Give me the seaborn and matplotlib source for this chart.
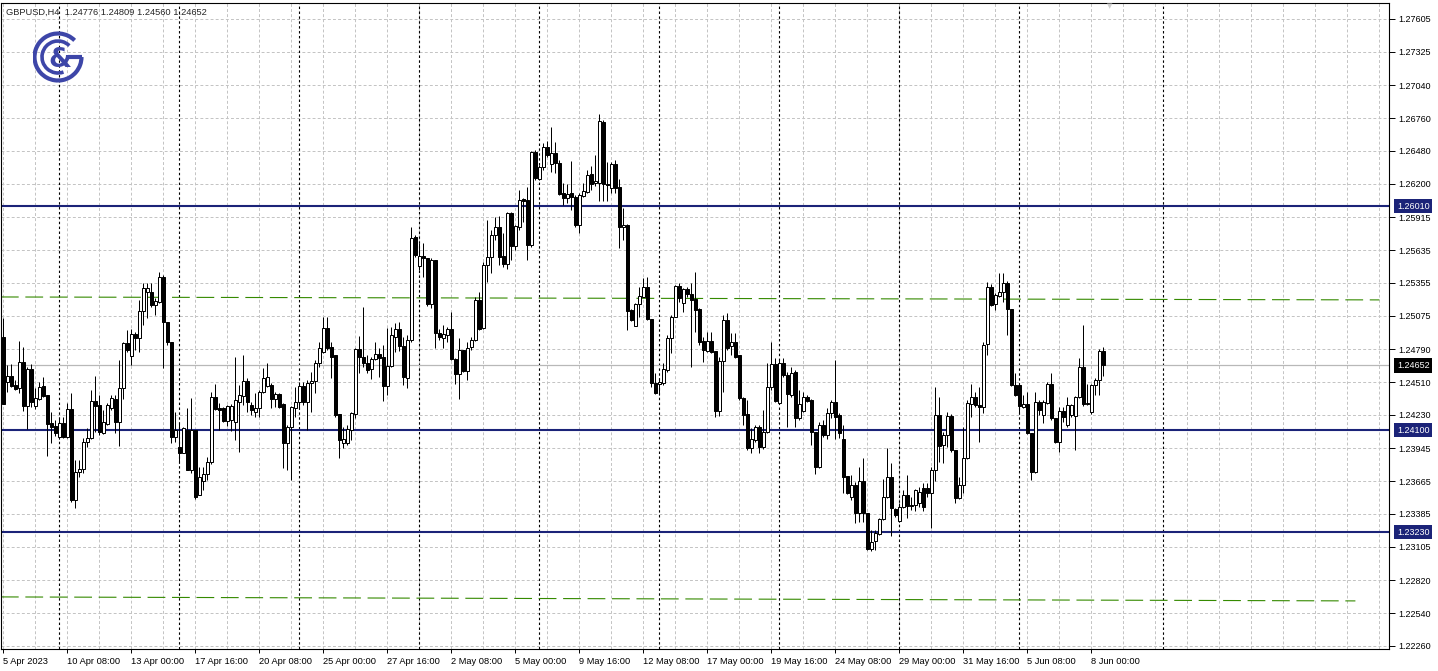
import matplotlib
matplotlib.use("Agg")
import matplotlib.pyplot as plt
from matplotlib.patches import Arc
import numpy as np
import pandas as pd
import seaborn as sns

header_text = "GBPUSD,H4  1.24776 1.24809 1.24560 1.24652"

# H4 candles (oldest first)
opens = [
    1.24894, 1.24511, 1.24562, 1.24485, 1.24460, 1.24681, 1.24306, 1.24621, 1.24306, 1.24365,
    1.24477, 1.24399, 1.24161, 1.24136, 1.24042, 1.24161, 1.24042, 1.24280, 1.23505, 1.23743,
    1.23769, 1.23999, 1.24033, 1.24348, 1.24314, 1.24075, 1.24153, 1.24289, 1.24365, 1.24170,
    1.24460, 1.24843, 1.24732, 1.24920, 1.24886, 1.25116, 1.25278, 1.25278, 1.25167, 1.25193,
    1.25406, 1.25022, 1.24852, 1.24042, 1.23956, 1.23905, 1.24101, 1.23760, 1.24101, 1.23547,
    1.23666, 1.23726, 1.23829, 1.24382, 1.24289, 1.24289, 1.24178, 1.24187, 1.24170, 1.24340,
    1.24391, 1.24520, 1.24314, 1.24255, 1.24289, 1.24425, 1.24477, 1.24485, 1.24365, 1.24408,
    1.24323, 1.23990, 1.24127, 1.24289, 1.24340, 1.24477, 1.24340, 1.24502, 1.24520, 1.24672,
    1.24766, 1.24971, 1.24809, 1.24741, 1.24238, 1.23990, 1.23990, 1.24101, 1.24238, 1.24792,
    1.24724, 1.24672, 1.24621, 1.24707, 1.24749, 1.24724, 1.24477, 1.24647, 1.24894, 1.24962,
    1.24817, 1.24545, 1.24869, 1.25747, 1.25499, 1.25585, 1.25568, 1.25176, 1.25551, 1.24928,
    1.24886, 1.24911, 1.24962, 1.24707, 1.24579, 1.24783, 1.24604, 1.24809, 1.24869, 1.25210,
    1.24971, 1.25508, 1.25576, 1.25764, 1.25832, 1.25585, 1.25516, 1.25951, 1.25670, 1.25832,
    1.26071, 1.26062, 1.25679, 1.26471, 1.26241, 1.26343, 1.26514, 1.26369, 1.26463, 1.26378,
    1.26122, 1.26079, 1.26122, 1.26088, 1.25849, 1.26096, 1.26130, 1.26284, 1.26207, 1.26207,
    1.26727, 1.26198, 1.26164, 1.26369, 1.26173, 1.25832, 1.25849, 1.25124, 1.24988, 1.25176,
    1.25235, 1.25321, 1.25048, 1.24502, 1.24494, 1.24502, 1.24613, 1.24886, 1.25065, 1.25329,
    1.25184, 1.25304, 1.25261, 1.25218, 1.25133, 1.24860, 1.24775, 1.24860, 1.24775, 1.24263,
    1.24689, 1.25039, 1.24817, 1.24852, 1.24741, 1.24374, 1.24238, 1.23948, 1.24016, 1.24127,
    1.23956, 1.24084, 1.24468, 1.24664, 1.24331, 1.24672, 1.24570, 1.24399, 1.24596, 1.24204,
    1.24263, 1.24382, 1.24357, 1.24084, 1.23786, 1.24144, 1.24059, 1.24246, 1.24340, 1.24229,
    1.24025, 1.23709, 1.23530, 1.23632, 1.23394, 1.23666, 1.23394, 1.23087, 1.23156, 1.23215,
    1.23342, 1.23530, 1.23700, 1.23428, 1.23326, 1.23445, 1.23547, 1.23462, 1.23462, 1.23479,
    1.23607, 1.23607, 1.23564, 1.23760, 1.24229, 1.23973, 1.24059, 1.24221, 1.23931, 1.23522,
    1.23632, 1.23863, 1.24323, 1.24382, 1.24314, 1.24297, 1.24835, 1.25321, 1.25176, 1.25244,
    1.25278, 1.25355, 1.25133, 1.24485, 1.24485, 1.24297, 1.24323, 1.24075, 1.23743, 1.24340,
    1.24229, 1.24331, 1.24494, 1.24204, 1.23999, 1.24263, 1.24144, 1.24229, 1.24221, 1.24382,
    1.24638, 1.24323, 1.24255, 1.24485, 1.24528, 1.24776,
]
highs = [
    1.25056, 1.24655, 1.24664, 1.24528, 1.24860, 1.24809, 1.24638, 1.24664, 1.24460, 1.24511,
    1.24553, 1.24399, 1.24255, 1.24187, 1.24204, 1.24212, 1.24331, 1.24416, 1.23846, 1.23846,
    1.24033, 1.24118, 1.24442, 1.24562, 1.24399, 1.24272, 1.24331, 1.24399, 1.24399, 1.24698,
    1.24852, 1.24954, 1.24962, 1.24937, 1.25210, 1.25355, 1.25355, 1.25355, 1.25227, 1.25449,
    1.25423, 1.25022, 1.24852, 1.24255, 1.24161, 1.24127, 1.24289, 1.24374, 1.24101, 1.23786,
    1.23786, 1.23871, 1.24425, 1.24494, 1.24331, 1.24297, 1.24314, 1.24323, 1.24724, 1.24485,
    1.24741, 1.24545, 1.24340, 1.24416, 1.24442, 1.24630, 1.24672, 1.24502, 1.24425, 1.24416,
    1.24331, 1.24144, 1.24306, 1.24468, 1.24511, 1.24511, 1.24528, 1.24596, 1.24698, 1.24852,
    1.25065, 1.25065, 1.24852, 1.24741, 1.24238, 1.24127, 1.24144, 1.24255, 1.24800, 1.24903,
    1.25150, 1.24741, 1.24724, 1.24852, 1.24800, 1.24826, 1.24971, 1.24980, 1.25014, 1.25022,
    1.24894, 1.24911, 1.25832, 1.25764, 1.25695, 1.25695, 1.25568, 1.25568, 1.25551, 1.24962,
    1.24997, 1.24980, 1.25107, 1.24715, 1.24886, 1.24783, 1.24852, 1.24894, 1.25235, 1.25278,
    1.25534, 1.25892, 1.25806, 1.25917, 1.25926, 1.25781, 1.25960, 1.25960, 1.25849, 1.26147,
    1.26079, 1.26173, 1.26480, 1.26488, 1.26360, 1.26548, 1.26565, 1.26684, 1.26557, 1.26403,
    1.26207, 1.26198, 1.26395, 1.26105, 1.26122, 1.26207, 1.26318, 1.26352, 1.26446, 1.26795,
    1.26744, 1.26386, 1.26386, 1.26403, 1.26241, 1.25994, 1.25858, 1.25133, 1.25184, 1.25321,
    1.25397, 1.25406, 1.25048, 1.24587, 1.24545, 1.24672, 1.24911, 1.25082, 1.25338, 1.25355,
    1.25312, 1.25321, 1.25355, 1.25449, 1.25141, 1.24894, 1.24937, 1.24937, 1.24775, 1.24724,
    1.25082, 1.25099, 1.24928, 1.24928, 1.24741, 1.24382, 1.24357, 1.24118, 1.24144, 1.24144,
    1.24272, 1.24672, 1.24852, 1.24715, 1.24698, 1.24715, 1.24596, 1.24638, 1.24613, 1.24442,
    1.24425, 1.24399, 1.24365, 1.24084, 1.24170, 1.24187, 1.24289, 1.24357, 1.24698, 1.24246,
    1.24144, 1.23709, 1.23717, 1.23658, 1.23786, 1.23863, 1.23394, 1.23249, 1.23249, 1.23351,
    1.23683, 1.23948, 1.23820, 1.23436, 1.23479, 1.23590, 1.23717, 1.23530, 1.23598, 1.23616,
    1.23649, 1.23649, 1.23786, 1.24468, 1.24382, 1.24084, 1.24255, 1.24238, 1.23931, 1.23700,
    1.24127, 1.24357, 1.24494, 1.24425, 1.24468, 1.24852, 1.25363, 1.25346, 1.25269, 1.25440,
    1.25440, 1.25372, 1.25133, 1.24587, 1.24494, 1.24399, 1.24425, 1.24075, 1.24425, 1.24357,
    1.24357, 1.24511, 1.24587, 1.24204, 1.24297, 1.24297, 1.24382, 1.24323, 1.24391, 1.24715,
    1.24997, 1.24494, 1.24494, 1.24545, 1.24792, 1.24809,
]
lows = [
    1.24323, 1.24425, 1.24468, 1.24442, 1.24416, 1.24263, 1.24110, 1.24297, 1.24280, 1.24357,
    1.24382, 1.23880, 1.23990, 1.24050, 1.24025, 1.24033, 1.24033, 1.23488, 1.23436, 1.23700,
    1.23735, 1.23956, 1.24025, 1.24084, 1.24059, 1.24067, 1.24144, 1.24272, 1.24075, 1.23965,
    1.24365, 1.24766, 1.24655, 1.24783, 1.24766, 1.24997, 1.25056, 1.25150, 1.25082, 1.25184,
    1.24630, 1.24826, 1.23990, 1.23999, 1.23820, 1.23905, 1.23760, 1.23735, 1.23513, 1.23547,
    1.23590, 1.23675, 1.23812, 1.24272, 1.24101, 1.24170, 1.24136, 1.24093, 1.24016, 1.23914,
    1.24314, 1.24255, 1.24229, 1.24212, 1.24212, 1.24416, 1.24468, 1.24289, 1.24297, 1.24289,
    1.23777, 1.23760, 1.23675, 1.24212, 1.24289, 1.24314, 1.24101, 1.24255, 1.24416, 1.24638,
    1.24758, 1.24783, 1.24545, 1.24212, 1.23863, 1.23948, 1.23973, 1.24016, 1.24204, 1.24587,
    1.24638, 1.24587, 1.24536, 1.24698, 1.24553, 1.24348, 1.24399, 1.24638, 1.24766, 1.24775,
    1.24485, 1.24460, 1.24852, 1.25576, 1.25465, 1.25406, 1.25159, 1.25141, 1.24800, 1.24869,
    1.24800, 1.24852, 1.24698, 1.24494, 1.24365, 1.24596, 1.24528, 1.24783, 1.24860, 1.24954,
    1.24962, 1.25363, 1.25440, 1.25721, 1.25508, 1.25491, 1.25474, 1.25551, 1.25636, 1.25806,
    1.25875, 1.25551, 1.25661, 1.26233, 1.26233, 1.26318, 1.26429, 1.26301, 1.26292, 1.26105,
    1.26019, 1.26037, 1.25977, 1.25832, 1.25781, 1.26088, 1.26122, 1.26147, 1.26181, 1.26054,
    1.26054, 1.26054, 1.26122, 1.26122, 1.25653, 1.25721, 1.24954, 1.25031, 1.24988, 1.25065,
    1.25235, 1.25039, 1.24468, 1.24408, 1.24399, 1.24485, 1.24596, 1.24758, 1.25065, 1.25193,
    1.25107, 1.25235, 1.24638, 1.24937, 1.24826, 1.24681, 1.24766, 1.24758, 1.24212, 1.24221,
    1.24425, 1.24783, 1.24741, 1.24715, 1.24357, 1.24144, 1.23931, 1.23905, 1.23999, 1.23905,
    1.23939, 1.24075, 1.24442, 1.24340, 1.24323, 1.24553, 1.24127, 1.24382, 1.24127, 1.24187,
    1.24255, 1.24340, 1.23973, 1.23726, 1.23777, 1.24042, 1.24025, 1.24204, 1.24025, 1.24033,
    1.23564, 1.23556, 1.23505, 1.23309, 1.23317, 1.23317, 1.23078, 1.23070, 1.23078, 1.23206,
    1.23334, 1.23522, 1.23198, 1.23359, 1.23317, 1.23436, 1.23351, 1.23419, 1.23411, 1.23445,
    1.23411, 1.23530, 1.23266, 1.23666, 1.23829, 1.23820, 1.23956, 1.23914, 1.23479, 1.23513,
    1.23564, 1.23854, 1.24212, 1.24297, 1.23999, 1.24246, 1.24741, 1.25159, 1.25124, 1.25235,
    1.25193, 1.24911, 1.24477, 1.24391, 1.24246, 1.24289, 1.24067, 1.23675, 1.23735, 1.24229,
    1.24161, 1.24323, 1.24187, 1.23990, 1.23914, 1.24170, 1.24127, 1.24212, 1.23931, 1.24374,
    1.24306, 1.24314, 1.24238, 1.24399, 1.24399, 1.24560,
]
closes = [
    1.24323, 1.24562, 1.24477, 1.24451, 1.24681, 1.24306, 1.24621, 1.24340, 1.24374, 1.24468,
    1.24391, 1.24153, 1.24127, 1.24075, 1.24161, 1.24042, 1.24280, 1.23505, 1.23743, 1.23769,
    1.23999, 1.24033, 1.24348, 1.24306, 1.24084, 1.24170, 1.24314, 1.24374, 1.24170, 1.24460,
    1.24843, 1.24783, 1.24920, 1.24886, 1.25116, 1.25312, 1.25312, 1.25167, 1.25201, 1.25406,
    1.25022, 1.24852, 1.24042, 1.24101, 1.23905, 1.24118, 1.23760, 1.24101, 1.23530, 1.23700,
    1.23726, 1.23829, 1.24382, 1.24280, 1.24272, 1.24178, 1.24306, 1.24306, 1.24357, 1.24399,
    1.24520, 1.24340, 1.24272, 1.24289, 1.24425, 1.24545, 1.24553, 1.24365, 1.24408, 1.24297,
    1.23990, 1.24127, 1.24297, 1.24340, 1.24477, 1.24340, 1.24502, 1.24520, 1.24672, 1.24800,
    1.24971, 1.24800, 1.24724, 1.24229, 1.24016, 1.24025, 1.24110, 1.24246, 1.24792, 1.24724,
    1.24672, 1.24613, 1.24707, 1.24749, 1.24715, 1.24477, 1.24647, 1.24911, 1.24962, 1.24817,
    1.24553, 1.24869, 1.25738, 1.25593, 1.25585, 1.25568, 1.25176, 1.25551, 1.24928, 1.24894,
    1.24920, 1.24962, 1.24707, 1.24579, 1.24783, 1.24604, 1.24800, 1.24869, 1.25210, 1.24962,
    1.25508, 1.25576, 1.25764, 1.25832, 1.25576, 1.25516, 1.25951, 1.25670, 1.25840, 1.26062,
    1.26054, 1.25679, 1.26471, 1.26250, 1.26343, 1.26514, 1.26446, 1.26463, 1.26378, 1.26113,
    1.26079, 1.26113, 1.26088, 1.25849, 1.26105, 1.26139, 1.26275, 1.26198, 1.26224, 1.26736,
    1.26198, 1.26190, 1.26369, 1.26164, 1.25832, 1.25849, 1.25116, 1.25039, 1.25176, 1.25244,
    1.25321, 1.25048, 1.24502, 1.24416, 1.24511, 1.24621, 1.24886, 1.25065, 1.25329, 1.25227,
    1.25304, 1.25261, 1.25210, 1.25124, 1.24852, 1.24783, 1.24860, 1.24766, 1.24263, 1.24689,
    1.25039, 1.24800, 1.24852, 1.24724, 1.24374, 1.24229, 1.23948, 1.24025, 1.24127, 1.23956,
    1.24084, 1.24468, 1.24664, 1.24348, 1.24672, 1.24570, 1.24408, 1.24587, 1.24204, 1.24323,
    1.24382, 1.24348, 1.24084, 1.23786, 1.24144, 1.24059, 1.24246, 1.24340, 1.24212, 1.24075,
    1.23700, 1.23564, 1.23632, 1.23394, 1.23666, 1.23394, 1.23087, 1.23147, 1.23223, 1.23342,
    1.23530, 1.23700, 1.23436, 1.23377, 1.23445, 1.23547, 1.23454, 1.23454, 1.23590, 1.23573,
    1.23445, 1.23564, 1.23760, 1.24229, 1.23965, 1.24059, 1.24221, 1.23931, 1.23522, 1.23632,
    1.23863, 1.24331, 1.24382, 1.24314, 1.24297, 1.24826, 1.25321, 1.25167, 1.25252, 1.25278,
    1.25355, 1.25133, 1.24485, 1.24399, 1.24306, 1.24323, 1.24075, 1.23743, 1.24340, 1.24272,
    1.24340, 1.24494, 1.24204, 1.23999, 1.24263, 1.24212, 1.24314, 1.24314, 1.24382, 1.24638,
    1.24323, 1.24331, 1.24485, 1.24528, 1.24775, 1.24652,
]

date_labels = [
    "5 Apr 2023", "10 Apr 08:00", "13 Apr 00:00", "17 Apr 16:00", "20 Apr 08:00",
    "25 Apr 00:00", "27 Apr 16:00", "2 May 08:00", "5 May 00:00", "9 May 16:00",
    "12 May 08:00", "17 May 00:00", "19 May 16:00", "24 May 08:00", "29 May 00:00",
    "31 May 16:00", "5 Jun 08:00", "8 Jun 00:00",
]
price_ticks = [
    1.27605, 1.27325, 1.27040, 1.26760, 1.26480, 1.26200, 1.25915, 1.25635, 1.25355, 1.25075,
    1.24790, 1.24510, 1.24230, 1.23945, 1.23665, 1.23385, 1.23105, 1.22820, 1.22540, 1.22260,
]
level_lines = [1.26010, 1.24100, 1.23230]
last_price = 1.24652
upper_trend = [1.25235, 1.25210]
lower_trend = [1.22678, 1.22644]
week_starts = [14, 44, 74, 104, 134, 164, 194, 224, 254, 290]

NAVY = "#1b2378"
GREEN = "#358a00"
GRID = "#c4c4c4"
LOGO = "#3d46a8"

df = pd.DataFrame({"open": opens, "high": highs, "low": lows, "close": closes})
df["bar"] = np.arange(len(df))
df["up"] = df["close"] >= df["open"]

sns.set_style("white")
plt.rcParams["font.family"] = ["Liberation Sans", "DejaVu Sans"]

fig = plt.figure(figsize=(14.38, 6.71), dpi=100)
ax = fig.add_axes([1 / 1438, 22 / 671, 1388 / 1438, 646 / 671])
ax.set_xlim(-0.575, 346.4)
ax.set_ylim(1.22234, 1.27741)

# grid
for p in price_ticks:
    ax.axhline(p, color=GRID, lw=0.72, ls=(0, (2.9, 2.2)), zorder=0)
for v in range(0, 347, 8):
    ax.axvline(v, color=GRID, lw=0.72, ls=(0, (2.9, 2.2)), zorder=0)
for w in week_starts:
    ax.axvline(w, color="black", lw=0.8, ls=(0, (2.2, 2.2)), zorder=1)

ax.axhline(last_price, color="#b8b8b8", lw=0.9, zorder=1)
for lvl in level_lines:
    ax.axhline(lvl, color=NAVY, lw=1.5, zorder=2)
ax.plot([-0.6, 344], upper_trend, color=GREEN, lw=0.8, dashes=(16, 6), zorder=2)
ax.plot([-0.6, 338], lower_trend, color=GREEN, lw=0.8, dashes=(16, 6), zorder=2)

# candles
ax.vlines(df["bar"], df["low"], df["high"], color="black", lw=0.72, zorder=3)
body_low = df[["open", "close"]].min(axis=1)
body_h = (df["close"] - df["open"]).abs()
ax.bar(df["bar"], body_h, bottom=body_low, width=0.6,
       color=np.where(df["up"], "white", "black"), edgecolor="black",
       linewidth=0.72, zorder=4)

# axes decoration
for s in ax.spines.values():
    s.set_color("black")
    s.set_linewidth(0.8)
ax.yaxis.tick_right()
ax.set_yticks(price_ticks)
ax.set_yticklabels([f"{p:.5f}" for p in price_ticks])
ax.tick_params(axis="y", right=True, length=4, width=0.7, pad=3, labelsize=6.5, colors="black")
ax.set_xticks(np.arange(0, 16 * len(date_labels), 16))
ax.set_xticklabels(date_labels, ha="left")
ax.tick_params(axis="x", bottom=True, length=3, width=0.7, pad=3, labelsize=6.7, colors="black")

for lvl in level_lines:
    ax.annotate(f"{lvl:.5f}", xy=(1, lvl), xycoords=("axes fraction", "data"),
                xytext=(8, 0), textcoords="offset pixels", ha="left", va="center",
                fontsize=6.5, color="white",
                bbox=dict(boxstyle="square,pad=0.3", fc=NAVY, ec="none"))
ax.annotate(f"{last_price:.5f}", xy=(1, last_price), xycoords=("axes fraction", "data"),
            xytext=(8, 0), textcoords="offset pixels", ha="left", va="center",
            fontsize=6.5, color="white",
            bbox=dict(boxstyle="square,pad=0.3", fc="black", ec="none"))

fig.text(6 / 1438, 1 - 12 / 671, header_text, fontsize=6.7, va="center", ha="left")
fig.text(1110 / 1438, 1 - 6 / 671, "\u25bc", fontsize=5, color="#cfcfcf",
         ha="center", va="center", family="DejaVu Sans")

# logo
lg = fig.add_axes([33 / 1438, (671 - 83) / 671, 52 / 1438, 52 / 671])
lg.set_xlim(0, 52)
lg.set_ylim(0, 52)
lg.set_aspect("equal", adjustable="datalim")
lg.axis("off")
lg.patch.set_alpha(0)
lg.add_patch(Arc((25, 26), 47, 47, theta1=45, theta2=360, color=LOGO, lw=3.0))
lg.add_patch(Arc((25, 26), 32, 32, theta1=45, theta2=290, color=LOGO, lw=2.6))
lg.plot([35, 48.5], [26, 26], color=LOGO, lw=3.0, solid_capstyle="butt")
lg.text(27, 23, "&", fontsize=19, fontweight="bold", color=LOGO,
        ha="center", va="center", family="DejaVu Sans")

fig.savefig("out.png", dpi=100)
